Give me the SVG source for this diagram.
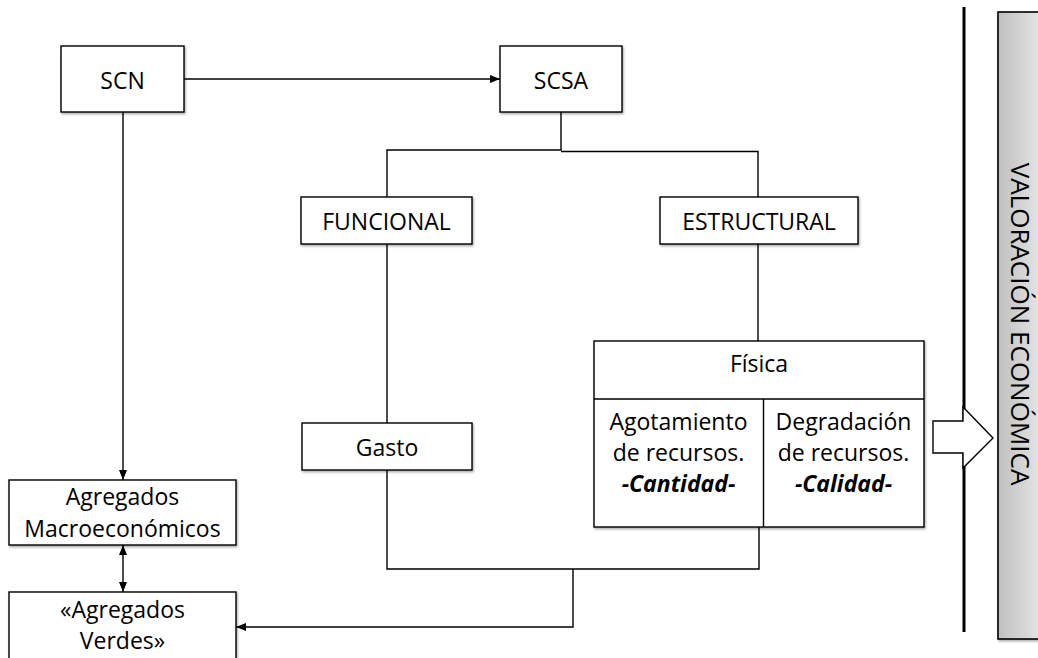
<svg xmlns="http://www.w3.org/2000/svg" width="1038" height="658" viewBox="0 0 1038 658">
<style>
.box{fill:#fff;stroke:#000;stroke-width:1.4;filter:url(#sh)}
.cell{fill:none;stroke:#000;stroke-width:1.4}
.t{font-family:"Open Sans","Noto Sans",sans-serif;font-size:23px;fill:#000;text-anchor:middle}
.bi{font-weight:bold;font-style:italic}
.c{fill:none;stroke:#000;stroke-width:1.4}
</style>
<defs>
<filter id="sh" x="-10%" y="-10%" width="130%" height="140%">
<feDropShadow dx="1" dy="1.5" stdDeviation="1" flood-color="#000" flood-opacity="0.35"/>
</filter>
<linearGradient id="g" gradientUnits="userSpaceOnUse" x1="998" y1="0" x2="1040" y2="0">
<stop offset="0" stop-color="#bfbfbf"/>
<stop offset="1" stop-color="#e4e4e4"/>
</linearGradient>
<marker id="ah" markerWidth="10" markerHeight="8" refX="10" refY="4" orient="auto-start-reverse" markerUnits="userSpaceOnUse">
<path d="M0,0 L10,4 L0,8 Z" fill="#000"/>
</marker>
</defs>

<g id="connectors">
<path class="c" d="M184 79 H500" marker-end="url(#ah)"/>
<path class="c" d="M561 112 V150 H387 V197"/>
<path class="c" d="M561 151.5 H758 V197"/>
<path class="c" d="M387 244 V423"/>
<path class="c" d="M758 244 V341"/>
<path class="c" d="M387 470 V569 H759 V527"/>
<path class="c" d="M573 569 V627 H236" marker-end="url(#ah)"/>
<path class="c" d="M123 112 V480" marker-end="url(#ah)"/>
<path class="c" d="M123 545 V592" marker-start="url(#ah)" marker-end="url(#ah)"/>
</g>

<g id="scn"><rect class="box" x="61" y="46" width="123" height="66"/><text class="t" x="122.5" y="89">SCN</text></g>
<g id="scsa"><rect class="box" x="500" y="46" width="122" height="66"/><text class="t" x="561" y="89">SCSA</text></g>
<g id="funcional"><rect class="box" x="301" y="197" width="171" height="47"/><text class="t" x="386.5" y="230">FUNCIONAL</text></g>
<g id="estructural"><rect class="box" x="660" y="197" width="198" height="47"/><text class="t" x="759" y="230">ESTRUCTURAL</text></g>
<g id="gasto"><rect class="box" x="302" y="423" width="170" height="47"/><text class="t" x="387" y="456">Gasto</text></g>
<g id="fisica">
<rect class="box" x="594" y="341" width="330" height="186"/>
<path class="cell" d="M594 399 H924 M763.5 399 V527"/>
<text class="t" x="759" y="372">Física</text>
<text class="t" x="678.5" y="430">Agotamiento</text>
<text class="t" x="678.5" y="461">de recursos.</text>
<text class="t bi" x="678.5" y="492">-Cantidad-</text>
<text class="t" x="843.5" y="430">Degradación</text>
<text class="t" x="843.5" y="461">de recursos.</text>
<text class="t bi" x="843.5" y="492">-Calidad-</text>
</g>
<g id="agregados-macro"><rect class="box" x="9" y="480" width="227" height="65"/><text class="t" x="122.5" y="505">Agregados</text><text class="t" x="122.5" y="537">Macroeconómicos</text></g>
<g id="agregados-verdes"><rect class="box" x="9" y="592" width="227" height="80"/><text class="t" x="122.5" y="618">«Agregados</text><text class="t" x="122.5" y="649">Verdes»</text></g>

<g id="divider"><line x1="964" y1="7" x2="964" y2="632" stroke="#000" stroke-width="3"/></g>
<g id="block-arrow"><polygon points="933,421 963,421 963,407 993,438 963,468 963,453 933,453" fill="#fff" stroke="#000" stroke-width="1.4"/></g>
<g id="valoracion">
<rect x="998" y="12" width="70" height="627" fill="url(#g)" stroke="#000" stroke-width="1.6" filter="url(#sh)"/>
<text class="t" transform="translate(1011,324) rotate(90)" style="font-size:26px">VALORACIÓN ECONÓMICA</text>
</g>
</svg>
